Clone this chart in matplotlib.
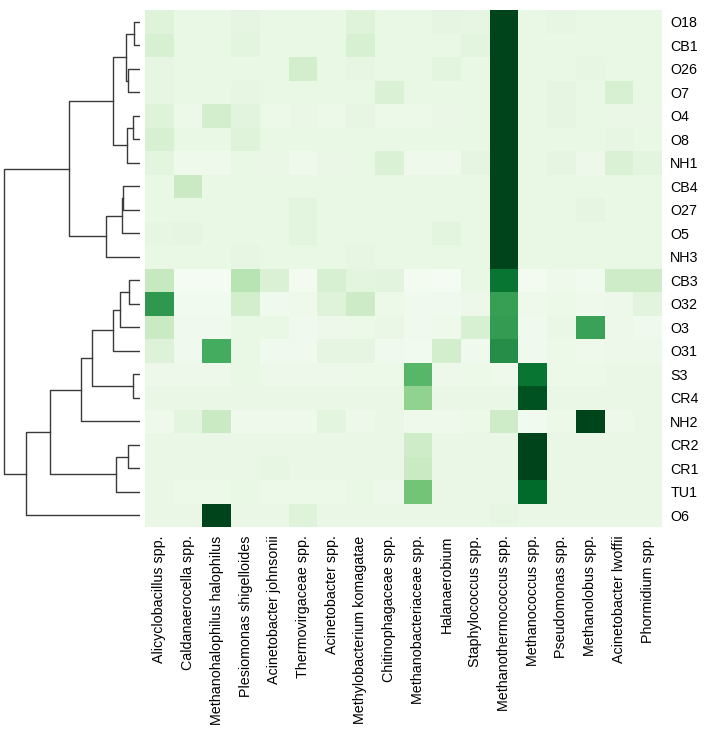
import numpy as np
import matplotlib
matplotlib.use("Agg")
import matplotlib.pyplot as plt

plt.rcParams['font.family'] = ['Liberation Sans', 'DejaVu Sans']

# Echantillons (lignes, dans l'ordre du dendrogramme)
samples = ["O18", "CB1", "O26", "O7", "O4", "O8", "NH1", "CB4", "O27", "O5", "NH3",
           "CB3", "O32", "O3", "O31", "S3", "CR4", "NH2", "CR2", "CR1", "TU1", "O6"]

# Taxons (colonnes)
taxa = ["Alicyclobacillus spp.", "Caldanaerocella spp.", "Methanohalophilus halophilus",
        "Plesiomonas shigelloides", "Acinetobacter johnsonii", "Thermovirgaceae spp.",
        "Acinetobacter spp.", "Methylobacterium komagatae", "Chitinophagaceae spp.",
        "Methanobacteriaceae spp.", "Halanaerobium", "Staphylococcus spp.",
        "Methanothermococcus spp.", "Methanococcus spp.", "Pseudomonas spp.",
        "Methanolobus spp.", "Acinetobacter lwoffii", "Phormidium spp."]

# Abondances relatives
values = [
    [0.15, 0.10, 0.10, 0.12, 0.10, 0.10, 0.10, 0.15, 0.10, 0.10, 0.12, 0.11, 1.00, 0.10, 0.11, 0.10, 0.10, 0.10],
    [0.18, 0.10, 0.10, 0.13, 0.10, 0.10, 0.10, 0.18, 0.10, 0.10, 0.10, 0.13, 1.00, 0.10, 0.10, 0.10, 0.10, 0.10],
    [0.11, 0.10, 0.10, 0.10, 0.10, 0.20, 0.10, 0.11, 0.10, 0.10, 0.13, 0.10, 1.00, 0.10, 0.10, 0.11, 0.10, 0.10],
    [0.11, 0.10, 0.10, 0.11, 0.10, 0.10, 0.10, 0.10, 0.17, 0.10, 0.10, 0.10, 1.00, 0.10, 0.12, 0.10, 0.18, 0.10],
    [0.15, 0.08, 0.20, 0.14, 0.08, 0.09, 0.08, 0.11, 0.08, 0.08, 0.09, 0.10, 1.00, 0.10, 0.12, 0.10, 0.09, 0.09],
    [0.18, 0.10, 0.10, 0.15, 0.10, 0.10, 0.10, 0.10, 0.10, 0.10, 0.10, 0.10, 1.00, 0.10, 0.10, 0.10, 0.11, 0.10],
    [0.13, 0.06, 0.06, 0.10, 0.09, 0.06, 0.09, 0.10, 0.17, 0.06, 0.06, 0.12, 1.00, 0.10, 0.12, 0.07, 0.17, 0.13],
    [0.10, 0.24, 0.10, 0.10, 0.10, 0.10, 0.10, 0.10, 0.10, 0.10, 0.10, 0.10, 1.00, 0.10, 0.10, 0.10, 0.10, 0.10],
    [0.10, 0.10, 0.10, 0.10, 0.10, 0.13, 0.10, 0.10, 0.10, 0.10, 0.10, 0.10, 1.00, 0.10, 0.10, 0.12, 0.10, 0.10],
    [0.11, 0.12, 0.10, 0.10, 0.10, 0.13, 0.10, 0.10, 0.10, 0.10, 0.13, 0.10, 1.00, 0.10, 0.10, 0.10, 0.10, 0.10],
    [0.10, 0.10, 0.10, 0.11, 0.10, 0.10, 0.10, 0.11, 0.10, 0.10, 0.10, 0.10, 1.00, 0.10, 0.10, 0.10, 0.10, 0.10],
    [0.25, 0.02, 0.02, 0.30, 0.17, 0.03, 0.18, 0.13, 0.14, 0.03, 0.02, 0.10, 0.84, 0.03, 0.06, 0.04, 0.22, 0.22],
    [0.70, 0.04, 0.04, 0.20, 0.05, 0.06, 0.15, 0.23, 0.08, 0.05, 0.05, 0.07, 0.67, 0.06, 0.08, 0.06, 0.07, 0.14],
    [0.24, 0.05, 0.05, 0.10, 0.10, 0.05, 0.07, 0.08, 0.09, 0.05, 0.06, 0.18, 0.68, 0.05, 0.09, 0.66, 0.07, 0.05],
    [0.16, 0.05, 0.62, 0.10, 0.05, 0.05, 0.12, 0.12, 0.05, 0.04, 0.20, 0.05, 0.74, 0.05, 0.08, 0.06, 0.07, 0.07],
    [0.07, 0.07, 0.07, 0.10, 0.07, 0.07, 0.07, 0.08, 0.08, 0.57, 0.07, 0.08, 0.06, 0.84, 0.08, 0.08, 0.09, 0.09],
    [0.09, 0.09, 0.09, 0.09, 0.09, 0.09, 0.09, 0.09, 0.09, 0.42, 0.09, 0.09, 0.09, 0.95, 0.09, 0.09, 0.09, 0.09],
    [0.06, 0.13, 0.24, 0.06, 0.06, 0.06, 0.13, 0.07, 0.09, 0.06, 0.06, 0.08, 0.22, 0.04, 0.08, 1.00, 0.07, 0.09],
    [0.09, 0.09, 0.09, 0.09, 0.09, 0.09, 0.09, 0.09, 0.09, 0.22, 0.09, 0.09, 0.09, 1.00, 0.09, 0.09, 0.09, 0.09],
    [0.09, 0.09, 0.09, 0.09, 0.11, 0.09, 0.09, 0.09, 0.09, 0.24, 0.09, 0.09, 0.09, 1.00, 0.09, 0.09, 0.09, 0.09],
    [0.09, 0.08, 0.08, 0.10, 0.08, 0.08, 0.08, 0.10, 0.07, 0.50, 0.09, 0.09, 0.09, 0.88, 0.09, 0.09, 0.09, 0.09],
    [0.09, 0.09, 1.00, 0.09, 0.09, 0.15, 0.09, 0.09, 0.09, 0.09, 0.09, 0.09, 0.11, 0.09, 0.09, 0.09, 0.09, 0.09],
]

# Liaisons du dendrogramme (facon scipy : gauche, droite, distance)
# les feuilles sont 0..21, chaque fusion prend l'indice suivant
links = [
    (0, 1, 6), (2, 3, 12), (22, 23, 14), (4, 5, 7), (25, 6, 13), (24, 26, 27),
    (7, 8, 16.7), (28, 9, 18), (29, 10, 34), (27, 30, 71),
    (11, 12, 11), (32, 13, 20), (33, 14, 27), (15, 16, 7), (34, 35, 48),
    (36, 17, 59), (18, 19, 12), (38, 20, 24), (37, 39, 90), (40, 21, 114),
    (31, 41, 136),
]

data = np.array(values)
n_rows, n_cols = data.shape

fig = plt.figure(figsize=(7.08, 7.36), dpi=100)
W, H = 708, 736
ax_hm = fig.add_axes([145 / W, 1 - 527 / H, (662 - 145) / W, (527 - 10) / H])
ax_dg = fig.add_axes([0, 1 - 527 / H, 140 / W, (527 - 10) / H])

# Heatmap
ax_hm.pcolormesh(data, cmap="Greens", vmin=0, vmax=1)
ax_hm.set_xlim(0, n_cols)
ax_hm.set_ylim(n_rows, 0)
ax_hm.set_xticks(np.arange(n_cols) + 0.5)
ax_hm.set_xticklabels(taxa, rotation=90, fontsize=10.3)
ax_hm.set_yticks(np.arange(n_rows) + 0.5)
ax_hm.set_yticklabels(samples, fontsize=10.3)
ax_hm.yaxis.tick_right()
ax_hm.tick_params(length=0, pad=6)
for s in ax_hm.spines.values():
    s.set_visible(False)

# Dendrogramme
pos = {i: (i + 0.5, 0.0) for i in range(n_rows)}
for k, (a, b, d) in enumerate(links):
    ya, ha = pos[a]
    yb, hb = pos[b]
    ax_dg.plot([ha, d, d, hb], [ya, ya, yb, yb], color="#3a3a3a", lw=1.0)
    pos[n_rows + k] = ((ya + yb) / 2, d)
ax_dg.set_ylim(n_rows, 0)
ax_dg.set_xlim(max(l[2] for l in links) * 1.03, 0)
ax_dg.axis("off")

fig.savefig("out.png", dpi=100)
